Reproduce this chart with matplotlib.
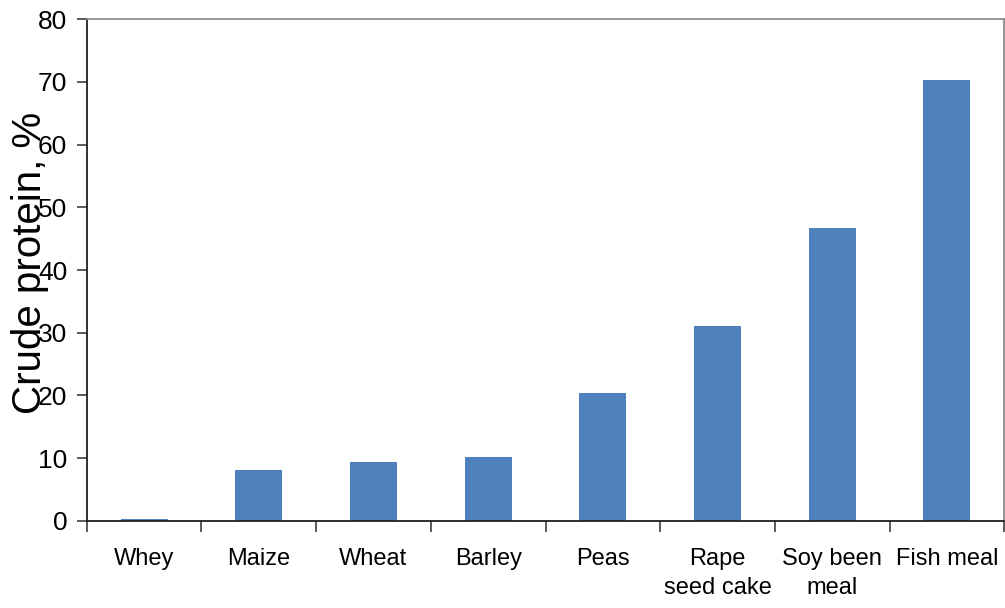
import matplotlib
matplotlib.use("Agg")
import matplotlib.pyplot as plt
from matplotlib.ticker import MultipleLocator, FixedLocator, NullFormatter
import numpy as np

plt.rcParams['font.family'] = ['Liberation Sans', 'DejaVu Sans']

categories = ["Whey", "Maize", "Wheat", "Barley", "Peas",
              "Rape\nseed cake", "Soy been\nmeal", "Fish meal"]
crude_protein = [0.3, 8.1, 9.3, 10.1, 20.4, 31.0, 46.7, 70.3]

bar_color = "#4F81BD"

fig = plt.figure(figsize=(10.05, 6.08), dpi=100)
ax = fig.add_axes([86.7 / 1005, 1 - 520.7 / 608, (1004.3 - 86.7) / 1005, (520.7 - 19.3) / 608])

x = np.arange(len(categories))
ax.bar(x, crude_protein, width=0.41, color=bar_color, zorder=2)

ax.set_xlim(-0.5, len(categories) - 0.5)
ax.set_ylim(0, 80)
ax.yaxis.set_major_locator(MultipleLocator(10))

# category labels centred under each bar, ticks on the category boundaries
ax.xaxis.set_major_locator(FixedLocator(np.arange(-0.5, len(categories), 1.0)))
ax.xaxis.set_major_formatter(NullFormatter())
for xi, name in zip(x, categories):
    ax.text(xi, -0.054, name, transform=ax.get_xaxis_transform(),
            ha="center", va="top", fontsize=17, linespacing=1.4)

ax.tick_params(axis="x", direction="out", length=8, width=1.2, color="#404040")
ax.tick_params(axis="y", direction="out", length=7, width=1.2, color="#404040",
               labelsize=19, pad=7)

for side in ("left", "bottom"):
    ax.spines[side].set_color("#202020")
    ax.spines[side].set_linewidth(1.3)
for side in ("top", "right"):
    ax.spines[side].set_color("#8c8c8c")
    ax.spines[side].set_linewidth(1.3)

ax.set_ylabel("Crude protein, %", fontsize=29)
ax.yaxis.set_label_coords(-0.041, 0.515)

fig.savefig("out.png", dpi=100)
